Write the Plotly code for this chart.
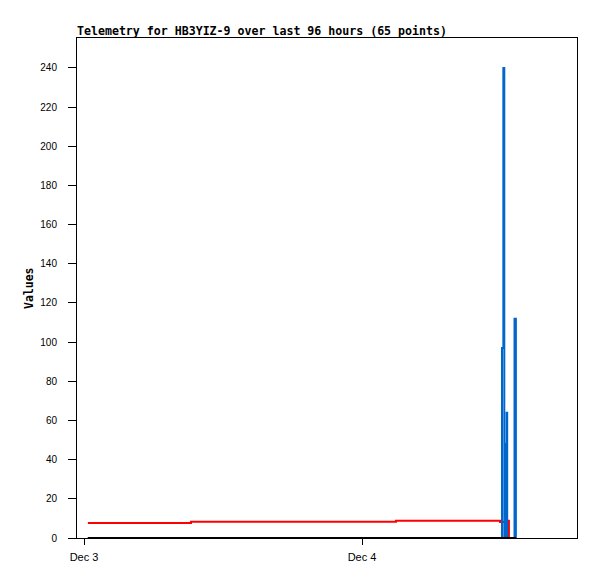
import plotly.graph_objects as go

# Red channel (step series)
red_times = ["2024-12-03 00:20", "2024-12-03 09:14", "2024-12-04 02:56",
             "2024-12-04 11:55", "2024-12-04 12:37", "2024-12-04 12:41"]
red_values = [7.7, 8.3, 8.8, 8.2, 8.8, 0]

# Blue channel
blue_times = ["2024-12-03 00:20", "2024-12-04 12:05", "2024-12-04 12:12",
              "2024-12-04 12:17", "2024-12-04 12:22", "2024-12-04 12:25",
              "2024-12-04 12:29", "2024-12-04 12:32", "2024-12-04 13:10",
              "2024-12-04 13:17"]
blue_values = [0, 97, 240, 0, 48, 0, 64, 0, 112, 0]

# Black channel (zeros)
black_times = ["2024-12-03 00:20", "2024-12-04 13:18"]
black_values = [0, 0]

x_range = ["2024-12-02 23:23:46", "2024-12-04 18:33:36"]
y_ticks = list(range(0, 241, 20))

mono = "DejaVu Sans Mono"
sans = "Liberation Sans"

fig = go.Figure()
fig.add_trace(go.Scatter(x=red_times, y=red_values, mode="lines",
                         line=dict(color="#ff0000", width=2, shape="hv"),
                         showlegend=False))
fig.add_trace(go.Scatter(x=blue_times, y=blue_values, mode="lines",
                         line=dict(color="#0066cc", width=2, shape="hv"),
                         showlegend=False))
fig.add_trace(go.Scatter(x=black_times, y=black_values, mode="lines",
                         line=dict(color="#000000", width=2),
                         showlegend=False))

fig.update_layout(
    width=597, height=579,
    margin=dict(l=69, r=28, t=30, b=49),
    paper_bgcolor="white", plot_bgcolor="white",
    title=dict(text="<b>Telemetry for HB3YIZ-9 over last 96 hours (65 points)</b>",
               x=69/597, xanchor="left", xref="container",
               y=1 - 23/579, yanchor="middle", yref="container",
               font=dict(family=mono, size=11.6, color="black")),
    font=dict(family=sans, size=10, color="black"),
    annotations=[dict(text="<b>Values</b>", xref="paper", yref="paper",
                      x=0, y=0.5, xshift=-48, xanchor="center", yanchor="middle",
                      textangle=-90, showarrow=False,
                      font=dict(family=mono, size=11.5, color="black"))],
)
fig.update_xaxes(type="date", range=x_range, tick0="2024-12-03", dtick=86400000,
                 tickformat="%b %-d", ticks="outside", ticklen=6, tickcolor="black",
                 showline=True, linecolor="black", linewidth=1, mirror=True,
                 showgrid=False, zeroline=False, ticklabelstandoff=3,
                 tickfont=dict(family=sans, size=11, color="black"))
fig.update_yaxes(range=[0, 255.3], tickvals=y_ticks, ticks="outside", ticklen=8,
                 tickcolor="black", showline=True, linecolor="black", linewidth=1,
                 mirror=True, showgrid=False, zeroline=False, ticklabelstandoff=9,
                 tickfont=dict(family=sans, size=10, color="black"))

fig.write_html("out.html")
